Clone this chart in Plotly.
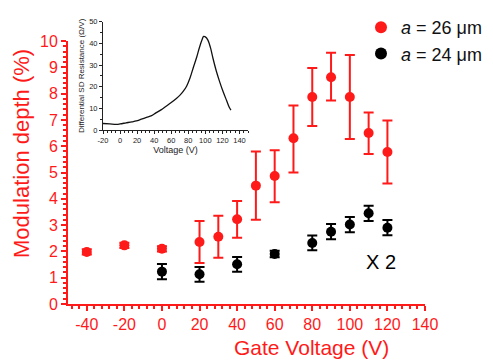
import plotly.graph_objects as go

# Main data: modulation depth (%) vs gate voltage (V)
v26 = [-40, -20, 0, 20, 30, 40, 50, 60, 70, 80, 90, 100, 110, 120]
m26 = [1.98, 2.23, 2.1, 2.36, 2.56, 3.22, 4.5, 4.87, 6.3, 7.87, 8.62, 7.87, 6.5, 5.78]
e26_up = [0.1, 0.1, 0.1, 0.8, 0.8, 0.7, 1.3, 0.98, 1.25, 1.1, 0.93, 1.6, 0.78, 1.2]
e26_dn = [0.1, 0.1, 0.1, 0.8, 0.8, 0.7, 1.3, 1.0, 1.3, 1.1, 0.88, 1.6, 0.8, 1.2]

v24 = [0, 20, 40, 60, 80, 90, 100, 110, 120]
m24 = [1.23, 1.13, 1.51, 1.9, 2.32, 2.75, 3.02, 3.45, 2.9]
e24 = [0.29, 0.28, 0.28, 0.12, 0.28, 0.29, 0.29, 0.29, 0.29]

x_ticks = [-40, -20, 0, 20, 40, 60, 80, 100, 120, 140]
x_ticklabels = ["-40", "-20", "0", "20", "40", "60", "80", "100", "120", "140"]

# Inset: differential SD resistance vs voltage
inset_v = [-20, -12, -4, 0, 7, 14, 19, 25, 31, 37, 42, 48, 54, 60, 66, 70, 74, 78, 82, 86,
           90, 93, 96, 98, 100, 103, 106, 109, 113, 117, 121, 125, 128, 130]
inset_r = [3.0, 2.8, 2.6, 2.8, 3.3, 3.8, 4.2, 5.0, 5.8, 6.6, 7.9, 9.3, 11.0, 12.7, 14.6, 16.0,
           17.8, 20.2, 24.0, 29.0, 33.8, 38.0, 41.5, 43.2, 43.0, 41.5, 38.0, 33.0, 27.0, 22.0,
           17.5, 13.5, 10.5, 9.2]
inset_ticks = [-20, 0, 20, 40, 60, 80, 100, 120, 140]
inset_ticklabels = ["-20", "0", "20", "40", "60", "80", "100", "120", "140"]

RED = "#ff1a1a"
FONT = "Arial, Liberation Sans, sans-serif"

OFF = 8  # page body margin offset
W, H = 493, 360
ML = 68 - OFF
MT = 0
MR = W - (425 - OFF)
MB = H - (304 - OFF)
pw = W - ML - MR
ph = H - MT - MB


def px_x(p):
    return (p - OFF - ML) / pw


def px_y(p):
    return (H - MB - (p - OFF)) / ph


fig = go.Figure()
fig.add_trace(go.Scatter(
    x=v26, y=m26, mode="markers", name="<i>a</i> = 26 μm",
    marker=dict(color=RED, size=10),
    error_y=dict(type="data", symmetric=False, array=e26_up, arrayminus=e26_dn,
                 color=RED, thickness=2, width=5),
    xaxis="x", yaxis="y"))
fig.add_trace(go.Scatter(
    x=v24, y=m24, mode="markers", name="<i>a</i> = 24 μm",
    marker=dict(color="black", size=10),
    error_y=dict(type="data", array=e24, color="black", thickness=2, width=5),
    xaxis="x", yaxis="y"))
fig.add_trace(go.Scatter(
    x=inset_v, y=inset_r, mode="lines", line=dict(color="#111", width=1.3, shape="spline"),
    showlegend=False, xaxis="x2", yaxis="y2"))

fig.update_layout(
    width=W, height=H,
    margin=dict(l=ML, r=MR, t=MT, b=MB),
    paper_bgcolor="white", plot_bgcolor="white",
    font=dict(family=FONT),
    showlegend=True,
    legend=dict(x=px_x(361), y=px_y(9), xanchor="left", yanchor="top",
                font=dict(size=18, color="#111", family=FONT),
                bgcolor="rgba(0,0,0,0)", itemsizing="constant",
                tracegroupgap=0),
    xaxis=dict(domain=[0, 1], range=[-50, 140], tickvals=x_ticks, ticktext=x_ticklabels,
               showgrid=False, zeroline=False, showline=True, linecolor=RED, linewidth=2,
               ticks="outside", tickcolor=RED, tickwidth=2, ticklen=5,
               minor=dict(dtick=4, tick0=0, ticks="outside", ticklen=3, tickcolor=RED, tickwidth=1.5),
               tickfont=dict(size=16, color=RED), anchor="y", automargin=False),
    yaxis=dict(domain=[0, px_y(41)], range=[0, 10], dtick=1,
               showgrid=False, zeroline=False, showline=True, linecolor=RED, linewidth=2,
               ticks="outside", tickcolor=RED, tickwidth=2, ticklen=5,
               minor=dict(dtick=0.2, ticks="outside", ticklen=3, tickcolor=RED, tickwidth=1.5),
               tickfont=dict(size=16, color=RED), anchor="x", automargin=False),
    xaxis2=dict(domain=[px_x(103), px_x(248)], range=[-20, 150],
                tickvals=inset_ticks, ticktext=inset_ticklabels,
                showgrid=False, zeroline=False, showline=True, linecolor="#222", linewidth=1,
                ticks="outside", tickcolor="#222", ticklen=3, tickwidth=1,
                minor=dict(dtick=5, ticks="outside", ticklen=2, tickcolor="#222"),
                tickfont=dict(size=7.5, color="#222"), anchor="y2", automargin=False,
                title=dict(text="Voltage (V)", font=dict(size=9, color="#222"), standoff=2)),
    yaxis2=dict(domain=[px_y(130), px_y(21.7)], range=[0, 50], dtick=10,
                showgrid=False, zeroline=False, showline=True, linecolor="#222", linewidth=1,
                ticks="outside", tickcolor="#222", ticklen=3, tickwidth=1,
                minor=dict(dtick=5, ticks="outside", ticklen=2, tickcolor="#222"),
                tickfont=dict(size=7.5, color="#222"), anchor="x2", automargin=False,
                title=dict(text="Differential SD Resistance (Ω/V)", font=dict(size=8, color="#222"), standoff=3)),
    annotations=[
        dict(text="X 2", x=116.5, y=1.6, xref="x", yref="y", showarrow=False,
             font=dict(size=20, color="black", family=FONT)),
        dict(text="Modulation depth (%)", x=px_x(21), y=px_y(154), xref="paper", yref="paper",
             xanchor="center", yanchor="middle",
             showarrow=False, textangle=-90, font=dict(size=22, color=RED, family=FONT)),
        dict(text="Gate Voltage (V)", x=px_x(311), y=px_y(347), xref="paper", yref="paper",
             xanchor="center", yanchor="middle", showarrow=False,
             font=dict(size=21, color=RED, family=FONT)),
    ],
)

fig.write_html("out.html")
